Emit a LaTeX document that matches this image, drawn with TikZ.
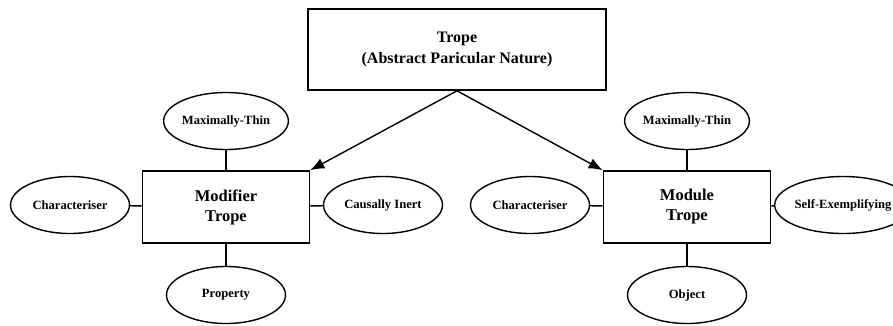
\documentclass[tikz,border=0pt]{standalone}
\usepackage{fontspec}
\setmainfont{Liberation Serif}
\usetikzlibrary{arrows.meta,shapes.geometric}

\begin{document}
\begin{tikzpicture}[x=1pt, y=1pt,
    every node/.style={font=\fontsize{12.6}{15}\selectfont\bfseries},
    tropebox/.style={draw, line width=1.6pt, minimum width=298, minimum height=81, align=center,
        font=\fontsize{16}{20.5}\selectfont\bfseries},
    kindbox/.style={draw, line width=1.6pt, minimum width=167, minimum height=72, align=center,
        font=\fontsize{16.5}{20}\selectfont\bfseries},
    feature/.style={draw, ellipse, line width=1.4pt, minimum width=119, minimum height=57, inner sep=0pt},
    link/.style={line width=1.4pt},
    isa/.style={line width=1.4pt, -{Latex[length=14pt,width=11pt]}}]
    \useasboundingbox (0,0) rectangle (893,-325);
    \node[tropebox] (trope) at (457,-49.5) {Trope\\(Abstract Paricular Nature)};
    % modifier side
    \node[kindbox] (modifier) at (226,-207) {Modifier\\Trope};
    \node[feature] (thinL) at (226,-121) {Maximally-Thin};
    \node[feature] (charL) at (70,-205) {Characteriser};
    \node[feature] (inert) at (383,-205) {Causally Inert};
    \node[feature] (property) at (226,-295) {Property};
    % module side
    \node[kindbox] (module) at (687,-207) {Module\\Trope};
    \node[feature] (thinR) at (687,-121) {Maximally-Thin};
    \node[feature] (charR) at (530,-205) {Characteriser};
    \node[feature] (selfex) at (843,-205) {Self-Exemplifying};
    \node[feature] (object) at (687,-295) {Object};
    \draw[isa] (trope.south) -- (modifier.north east);
    \draw[isa] (trope.south) -- (module.north west);
    \draw[link] (thinL) -- (modifier);
    \draw[link] (charL) -- (modifier);
    \draw[link] (inert) -- (modifier);
    \draw[link] (property) -- (modifier);
    \draw[link] (thinR) -- (module);
    \draw[link] (charR) -- (module);
    \draw[link] (selfex) -- (module);
    \draw[link] (object) -- (module);
\end{tikzpicture}
\end{document}
